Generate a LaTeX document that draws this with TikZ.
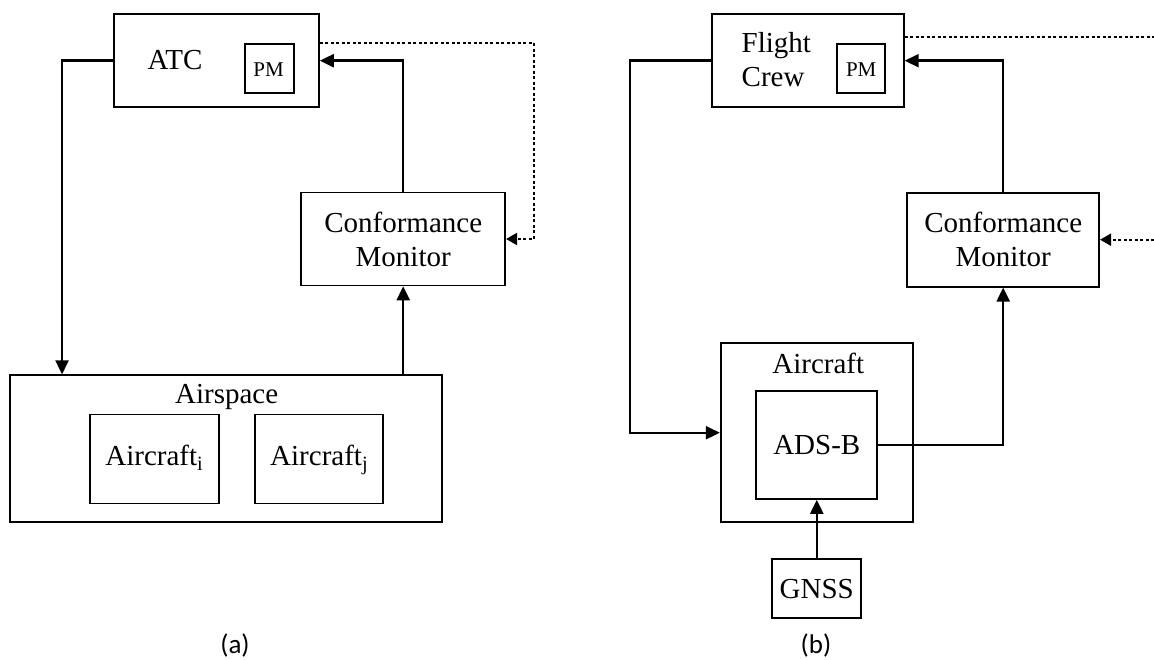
\documentclass[tikz,border=0pt]{standalone}
\usepackage{fontspec}
\setmainfont{Liberation Serif}
\newfontfamily\capfont{Carlito}
\usetikzlibrary{arrows.meta}

\tikzset{
  blk/.style={draw, line width=1.7pt, rectangle, inner sep=0pt},
  lbl/.style={inner sep=0pt, font=\fontsize{29}{34}\selectfont, align=center},
  pmlbl/.style={inner sep=0pt, font=\fontsize{21}{24}\selectfont},
  subcap/.style={inner sep=0pt, font=\capfont\fontsize{27}{32}\selectfont},
  arr/.style={line width=2.4pt, -{Triangle[length=14pt,width=13pt]}},
  dotarr/.style={line width=2pt, dash pattern=on 3pt off 2.5pt, -{Triangle[length=11pt,width=12pt]}},
  dotline/.style={line width=2pt, dash pattern=on 3pt off 2.5pt},
  even/.style={text height=20pt, text depth=7pt},
}

\begin{document}
\begin{tikzpicture}[x=1pt,y=-1pt]
\useasboundingbox (0,0) rectangle (1154,660);

% ---------- (a) ATC loop ----------
\node[blk, minimum width=205pt, minimum height=93pt] (atc) at (216.5,60.7) {};
\node[lbl] (atclbl) at (175,60.5) {ATC};
\node[blk, minimum width=49pt, minimum height=49pt] (atcpm) at (269.7,68.7) {};
\node[pmlbl] (atcpmlbl) at (268.5,69.3) {PM};

\node[blk, minimum width=204pt, minimum height=93pt, lbl] (cma) at (403.2,239) {Conformance\\Monitor};

\node[blk, minimum width=432pt, minimum height=147pt] (airspace) at (226.2,448.7) {};
\node[lbl] (airlbl) at (226.7,397) {Airspace};
\node[blk, minimum width=129pt, minimum height=89pt, lbl, even] (aci) at (154.3,459) {Aircraft\textsubscript{i}};
\node[blk, minimum width=128pt, minimum height=89pt, lbl, even] (acj) at (319.2,459) {Aircraft\textsubscript{j}};

\node[subcap] (capa) at (235,645) {(a)};

\draw[arr] (atc.west) -| ([xshift=52.7pt]airspace.north west);
\draw[arr] (cma.north) |- (atc.east);
\draw[arr] (airspace.north -| cma.south) -- (cma.south);
\draw[dotarr] ([yshift=18pt]atc.east) -- ++(214,0) |- (cma.east);

% ---------- (b) flight crew loop ----------
\node[blk, minimum width=192pt, minimum height=93pt] (fc) at (807.8,60.7) {};
\node[lbl, anchor=west, align=left] (fclbl) at (741.5,60) {Flight\\Crew};
\node[blk, minimum width=48pt, minimum height=49pt] (fcpm) at (861.2,68.7) {};
\node[pmlbl] (fcpmlbl) at (861.2,69.3) {PM};

\node[blk, minimum width=192pt, minimum height=94pt, lbl] (cmb) at (1003.2,239.7) {Conformance\\Monitor};

\node[blk, minimum width=192pt, minimum height=179pt] (acb) at (816.7,432.7) {};
\node[lbl] (acblbl) at (818.3,363) {Aircraft};
\node[blk, minimum width=121pt, minimum height=108pt, lbl] (adsb) at (816.8,445) {ADS-B};
\node[blk, minimum width=89pt, minimum height=59pt, lbl] (gnss) at (816.8,588.8) {GNSS};

\node[subcap] (capb) at (816,645) {(b)};

\coordinate (rimtop) at (1154,36.7);
\coordinate (rimbot) at (1154,239.7);

\draw[arr] (fc.west) -- ++(-81,0) |- (acb.west);
\draw[arr] (cmb.north) |- (fc.east);
\draw[arr] (adsb.east) -| (cmb.south);
\draw[arr] (gnss.north) -- (adsb.south);
\draw[dotline] ([yshift=24pt]fc.east) -- (rimtop);
\draw[dotarr] (rimbot) -- (cmb.east);
\end{tikzpicture}
\end{document}
